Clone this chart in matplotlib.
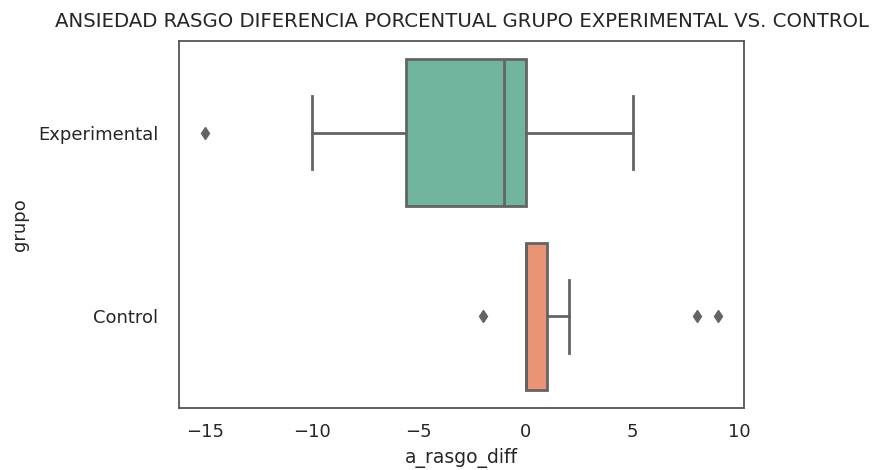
import matplotlib
matplotlib.use("Agg")
import matplotlib.pyplot as plt

# Datos del boxplot
grupos = ["Experimental", "Control"]
medianas = [-1, 0]
q1 = [-5.6, 0]
q3 = [0, 1]
bigote_inf = [-10, 0]
bigote_sup = [5, 2]
atipicos = [[-15], [-2, 8, 9]]
colores = ["#72b59e", "#e99575"]

gris = "#646464"
texto = "#262626"

plt.rcParams["font.family"] = ["DejaVu Sans"]

stats = []
for i, g in enumerate(grupos):
    stats.append({
        "label": g,
        "med": medianas[i],
        "q1": q1[i],
        "q3": q3[i],
        "whislo": bigote_inf[i],
        "whishi": bigote_sup[i],
        "fliers": atipicos[i],
    })

fig = plt.figure(figsize=(8.77, 4.70), dpi=100)
ax = fig.add_axes([179 / 877, 1 - 408 / 470, 565 / 877, 367 / 470])

lw = 2.0
bp = ax.bxp(
    stats,
    positions=[0, 1],
    vert=False,
    widths=0.8,
    patch_artist=True,
    boxprops=dict(edgecolor=gris, linewidth=lw),
    medianprops=dict(color=gris, linewidth=lw),
    whiskerprops=dict(color=gris, linewidth=lw),
    capprops=dict(color=gris, linewidth=lw),
    flierprops=dict(marker="d", markersize=6, markerfacecolor=gris,
                    markeredgecolor=gris, linestyle="none"),
)
for patch, c in zip(bp["boxes"], colores):
    patch.set_facecolor(c)

ax.set_ylim(1.5, -0.5)
ax.set_yticks([0, 1])
ax.set_yticklabels(grupos)
ax.set_xticks([-15, -10, -5, 0, 5, 10])
ax.set_xticklabels(["\u221215", "\u221210", "\u22125", "0", "5", "10"])
ax.tick_params(axis="both", length=0, labelsize=13, colors=texto)
ax.tick_params(axis="x", pad=11)
ax.tick_params(axis="y", pad=15)

for s in ax.spines.values():
    s.set_color("#555555")
    s.set_linewidth(1.3)

ax.set_xlabel("a_rasgo_diff", fontsize=13.5, color=texto, labelpad=5)
ax.set_ylabel("grupo", fontsize=13, color=texto, labelpad=6)
ax.set_title("ANSIEDAD RASGO DIFERENCIA PORCENTUAL GRUPO EXPERIMENTAL VS. CONTROL",
             fontsize=14.2, color=texto, pad=10)

fig.savefig("out.png", dpi=100)
